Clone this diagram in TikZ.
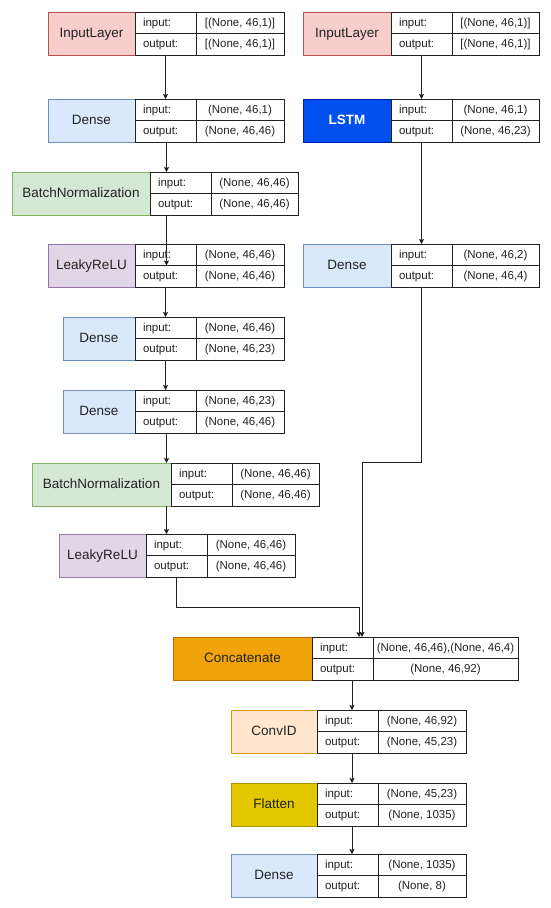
\documentclass[tikz,border=0pt]{standalone}
\usepackage{fontspec}
\setmainfont{Liberation Sans}
\usetikzlibrary{arrows.meta,calc}
\definecolor{redF}{HTML}{F8CECC}\definecolor{redS}{HTML}{B85450}
\definecolor{bluF}{HTML}{DAE8FC}\definecolor{bluS}{HTML}{6C8EBF}
\definecolor{grnF}{HTML}{D5E8D4}\definecolor{grnS}{HTML}{82B366}
\definecolor{purF}{HTML}{E1D5E7}\definecolor{purS}{HTML}{9673A6}
\definecolor{lstF}{HTML}{0050EF}\definecolor{lstS}{HTML}{001DBC}
\definecolor{catF}{HTML}{F0A30A}\definecolor{catS}{HTML}{BD7000}
\definecolor{cnvF}{HTML}{FFE6CC}\definecolor{cnvS}{HTML}{D79B00}
\definecolor{flaF}{HTML}{E3C800}\definecolor{flaS}{HTML}{B09500}
\definecolor{ink}{HTML}{222222}
\tikzset{
  lab/.style={anchor=north west, inner sep=0pt, outer sep=0pt, line width=0.8pt,
    minimum height=43pt, font=\fontsize{13.5}{15}\selectfont, text=ink,
    text height=9.5pt, text depth=2.5pt},
  inputlayer/.style={lab, fill=redF, draw=redS},
  denselayer/.style={lab, fill=bluF, draw=bluS},
  bnlayer/.style={lab, fill=grnF, draw=grnS},
  relulayer/.style={lab, fill=purF, draw=purS},
  lstmlayer/.style={lab, fill=lstF, draw=lstS, text=white, font=\fontsize{13.5}{15}\selectfont\bfseries},
  catlayer/.style={lab, fill=catF, draw=catS},
  convlayer/.style={lab, fill=cnvF, draw=cnvS},
  flatlayer/.style={lab, fill=flaF, draw=flaS},
  keycell/.style={anchor=north west, draw=ink, line width=0.8pt, inner ysep=0pt, inner xsep=8pt,
    outer sep=0pt, text width=45pt, minimum height=21.5pt,
    text height=9.5pt, text depth=2.5pt,
    font=\fontsize{11.5}{13}\selectfont, text=ink},
  valcell/.style={anchor=north west, draw=ink, line width=0.8pt, inner sep=0pt, outer sep=0pt,
    minimum height=21.5pt, text height=9.5pt, text depth=2.5pt,
    font=\fontsize{11.5}{13}\selectfont, text=ink},
  arr/.style={draw=ink, line width=0.8pt, -{Stealth[length=5pt,width=5pt,inset=1pt]}}
}
% #1 name, #2 style, #3 x0, #4 x1, #5 value width, #6 top y, #7 label, #8 input, #9 output
\newcommand\layerblock[9]{%
  \node[#2, minimum width={#4-#3}] (#1) at (#3,#6) {#7};
  \node[keycell] (#1-in) at (#4,#6) {input:};
  \node[keycell] (#1-out) at (#4,#6+21.5) {output:};
  \node[valcell, minimum width=#5] (#1-inv) at (#4+61,#6) {#8};
  \node[valcell, minimum width=#5] (#1-outv) at (#4+61,#6+21.5) {#9};
}
\begin{document}
\begin{tikzpicture}[x=1pt,y=-1pt]
\useasboundingbox[fill=white] (0,0) rectangle (550,908);
\layerblock{inL}{inputlayer}{48}{135}{88}{12}{InputLayer}{[(None, 46,1)]}{[(None, 46,1)]}
\layerblock{d1}{denselayer}{48}{135}{88}{99}{Dense}{(None, 46,1)}{(None, 46,46)}
\layerblock{bn1}{bnlayer}{12}{150}{87}{172}{BatchNormalization}{(None, 46,46)}{(None, 46,46)}
\layerblock{lr1}{relulayer}{48}{135}{88}{244}{LeakyReLU}{(None, 46,46)}{(None, 46,46)}
\layerblock{d2}{denselayer}{63}{135}{88}{317}{Dense}{(None, 46,46)}{(None, 46,23)}
\layerblock{d3}{denselayer}{63}{135}{88}{390}{Dense}{(None, 46,23)}{(None, 46,46)}
\layerblock{bn2}{bnlayer}{32}{171}{87}{463}{BatchNormalization}{(None, 46,46)}{(None, 46,46)}
\layerblock{lr2}{relulayer}{59}{146}{88}{534}{LeakyReLU}{(None, 46,46)}{(None, 46,46)}
\layerblock{inR}{inputlayer}{303}{391}{87}{12}{InputLayer}{[(None, 46,1)]}{[(None, 46,1)]}
\layerblock{lstm}{lstmlayer}{303}{391}{87}{99}{LSTM}{(None, 46,1)}{(None, 46,23)}
\layerblock{dR}{denselayer}{303}{391}{87}{244}{Dense}{(None, 46,2)}{(None, 46,4)}
\layerblock{cat}{catlayer}{173}{312}{145}{637}{Concatenate}{(None, 46,46),(None, 46,4)}{(None, 46,92)}
\layerblock{conv}{convlayer}{231}{317}{88}{710}{ConvID}{(None, 46,92)}{(None, 45,23)}
\layerblock{fl}{flatlayer}{231}{317}{88}{783}{Flatten}{(None, 45,23)}{(None, 1035)}
\layerblock{dF}{denselayer}{231}{317}{88}{854}{Dense}{(None, 1035)}{(None, 8)}
% left chain
\draw[arr] (inL-out.south) -- (inL-out.south |- d1.north);
\draw[arr] ($(d1-out.south)+(1,0)$) -- ($(d1-out.south |- bn1.north)+(1,0)$);
\draw[arr] ($(bn1-out.south -| lr1-out.south)+(1,0)$) -- ($(lr1-out.north)+(1,0)$);
\draw[arr] (lr1-out.south) -- (lr1-out.south |- d2.north);
\draw[arr] (d2-out.south) -- (d2-out.south |- d3.north);
\draw[arr] ($(d3-out.south)+(1,0)$) -- ($(d3-out.south |- bn2.north)+(1,0)$);
\draw[arr] ($(bn2.south -| d3-out.south)+(1,0)$) -- ($(d3-out.south |- lr2.north)+(1,0)$);
% right chain
\draw[arr] (inR-out.south) -- (inR-out.south |- lstm.north);
\draw[arr] (lstm-out.south) -- (lstm-out.south |- dR.north);
% merge
\draw[arr] (lr2-out.south) -- ++(0,30) -| ($(cat-in.north)+(16.5,0)$);
\draw[arr] (dR-out.south) -- ++(0,175) -| ($(cat-in.north)+(19.5,0)$);
% bottom chain
\draw[arr] ($(cat.south -| conv-in.north)+(4.5,0)$) -- ($(conv-in.north)+(4.5,0)$);
\draw[arr] ($(conv-out.south)+(4.5,0)$) -- ($(conv-out.south |- fl.north)+(4.5,0)$);
\draw[arr] ($(fl-out.south)+(4.5,0)$) -- ($(fl-out.south |- dF.north)+(4.5,0)$);
\end{tikzpicture}
\end{document}
